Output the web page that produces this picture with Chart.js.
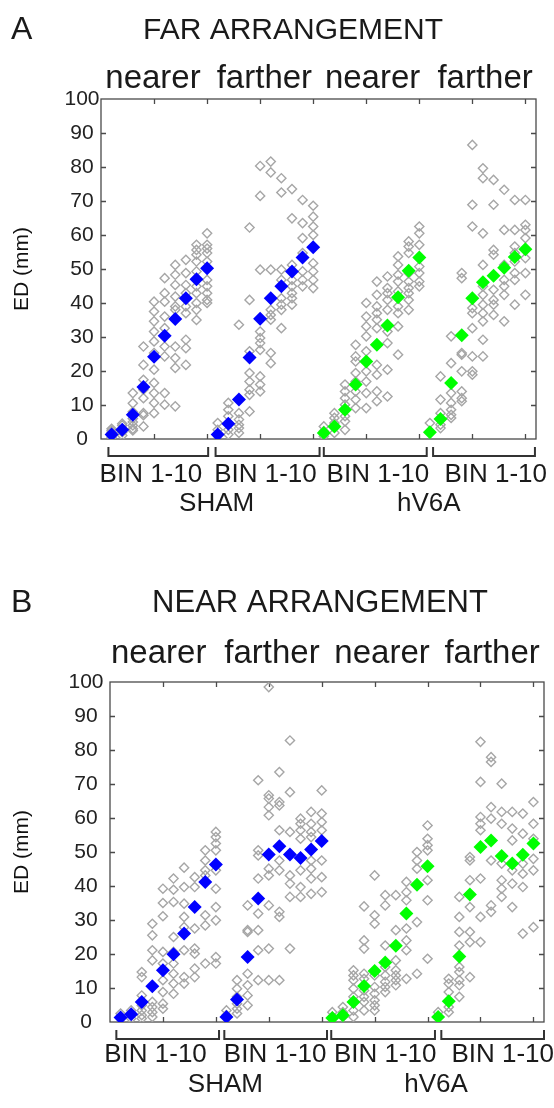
<!DOCTYPE html>
<html>
<head>
<meta charset="utf-8">
<script src="https://cdn.jsdelivr.net/npm/chart.js@4.4.0/dist/chart.umd.min.js"></script>
<style>
body { margin: 0; background: #fff; }
canvas { position: absolute; left: 0; }
#far-chart { top: 0; }
#near-chart { top: 554px; }
</style>
</head>
<body>
<canvas id="far-chart" width="554" height="554"></canvas>
<canvas id="near-chart" width="554" height="554"></canvas>
<script>
// ---- data: ED (mm) per bin, 10 bins per condition ----
const groupTitles = ["nearer", "farther", "nearer", "farther"];
const binLabel = "BIN 1-10";
const groupNames = ["SHAM", "hV6A"];
const yTicks = [0, 10, 20, 30, 40, 50, 60, 70, 80, 90, 100];

// FAR ARRANGEMENT
const farShamNearerMean = [1.3, 2.7, 7.1, 15.3, 24.2, 30.4, 35.3, 41.4, 47.0, 50.2];
const farShamNearerPts = [
    [0.5, 1, 1.5, 2, 2.5, 3], [1, 2, 3, 4, 4.5], [2.5, 3, 4, 5, 6, 8, 10.5, 13.5],
    [3.7, 7, 7.6, 12, 14.5, 17.4, 21.8, 27.2], [7.6, 10.6, 13.5, 16.5, 20.4, 25.3, 28.7, 31.6, 34.6, 37.5, 40.4],
    [10.1, 13.5, 24.3, 27.2, 32.6, 36, 40.4, 42.9, 47.3], [9.6, 20.9, 23.8, 27.2, 38, 39, 41.9, 45.3, 48.3, 51.2],
    [21.8, 26.7, 29.2, 37, 39, 42.9, 45.3, 48.8, 52.7], [35, 38, 40, 42.9, 44.9, 49.3, 52.2, 54.2, 55.6, 57.1],
    [40, 40.9, 42.9, 44.9, 46.8, 52.2, 54.7, 56, 57.1, 60.5]
];
const farShamFartherMean = [1.3, 4.5, 11.6, 24.0, 35.4, 41.4, 44.9, 49.3, 53.4, 56.4];
const farShamFartherPts = [
    [1.6, 2.7, 4.7], [1.3, 2.7, 4.7, 6.7, 8.6, 10.6], [1.8, 3.2, 4.2, 5.7, 7.6, 33.6],
    [8.1, 13, 14.5, 16.9, 19.4, 23.8, 25.8, 40.9, 62.2], [14, 16, 18.4, 26.2, 28.2, 29.7, 31.6, 49.8, 71.5, 80.3],
    [22.3, 25.3, 35.1, 36.5, 38, 49.8, 78.4, 81.6], [32.6, 38, 39.5, 41.4, 46.8, 49.8, 72.5, 76.7],
    [39.5, 41.4, 42.9, 44.9, 46.8, 51.2, 64.9, 73.5], [44.9, 46.8, 49.3, 54.7, 59.1, 63.5, 70.3],
    [44.4, 46.8, 49.3, 51.7, 56.6, 60, 62.5, 65.4, 68.6]
];
const farV6aNearerMean = [1.8, 3.7, 8.6, 16.0, 22.8, 27.7, 33.4, 41.7, 49.5, 53.4];
const farV6aNearerPts = [
    [0.8, 2.3, 3.7], [1.8, 4.7, 6.2, 7.6], [2.7, 5.2, 6.7, 10.1, 12, 14, 16],
    [9.1, 11.6, 14, 16.9, 19.4, 22.8, 24.3, 27.7], [9.1, 13.5, 16.9, 19.9, 25.8, 30.2, 33.1, 36, 40],
    [11.1, 14, 18.9, 21.8, 32.6, 35.1, 37, 39, 42.4, 46.3], [12.5, 20.4, 28.2, 31.6, 38, 40.9, 42.9, 44.4, 47.8],
    [24.8, 33.1, 37, 39, 43.4, 46.3, 48.3, 51.2, 53.7], [38, 40.9, 42.9, 44.4, 46.3, 48.8, 54.7, 56.6, 58.1],
    [44.9, 46.3, 48.8, 50.7, 57.1, 60.5, 62.5]
];
const farV6aFartherMean = [2.0, 5.9, 16.5, 30.5, 41.4, 46.1, 48.0, 50.4, 53.5, 55.8];
const farV6aFartherPts = [
    [1.8, 4.7], [3.2, 4.2, 5.7, 7.6, 11.6, 18.4], [6.2, 7.1, 8.6, 10.6, 13.5, 22.3, 30.2],
    [11.1, 12, 14, 19.9, 24.8, 25.3, 47.3, 48.8], [18.9, 19.9, 24.3, 32.6, 37, 38.5, 62.5, 68.9, 86.5],
    [24.3, 29.2, 34.6, 37, 39.5, 42.4, 44.9, 51.2, 60.5, 76.7, 79.6], [36.5, 39.5, 40.9, 43.9, 54.2, 55.6, 68.9, 76.2],
    [34.6, 42.4, 44.9, 46.8, 51.2, 61.5, 73.3], [39.5, 46.8, 48.8, 52.2, 54.7, 56.6, 61.5, 70.3],
    [42.4, 48.8, 53.2, 59.1, 61.5, 63, 70.3]
];

// NEAR ARRANGEMENT
const nearShamNearerMean = [1.3, 2.3, 5.9, 10.5, 15.2, 19.9, 26.0, 33.8, 41.2, 46.3];
const nearShamNearerPts = [
    [1, 2.5], [1, 3.4], [1, 2, 3.4, 4.9, 7.8, 13.2, 14.7],
    [1.5, 2.9, 4.4, 5.9, 18.1, 21.1, 25.5, 28.9], [3.9, 5.4, 8.8, 12.3, 17.2, 20.6, 31.1, 35, 39.2],
    [8.3, 11.3, 14.2, 17.2, 20.6, 25, 35.3, 38.9, 42.2], [11.3, 13.2, 21.1, 27.9, 30.9, 34.8, 39.7, 45.4],
    [13.2, 15.7, 20.1, 21.6, 27.5, 39.7, 42.6], [17.2, 28.4, 31.4, 43.1, 44.6, 47.5, 50.5],
    [17.2, 19.1, 29.9, 33.8, 39.2, 44.6, 50.5, 52.5, 54.4, 55.9]
];
const nearShamFartherMean = [1.5, 6.6, 19.1, 36.3, 49.3, 51.7, 49.3, 48.2, 50.7, 53.2];
const nearShamFartherPts = [
    [2, 3.4], [2.5, 3.9, 5.4, 7.4, 9.8, 12.3], [4.9, 7.8, 10.8, 14.2, 26.5, 27, 34.3],
    [12.3, 21.1, 27, 31.9, 42.2, 49, 50.5, 71.1], [12.3, 21.6, 34.3, 43.1, 45.1, 60.8, 63.2, 65.7, 66.7, 98.5],
    [12.3, 30.9, 32.4, 44.6, 47.5, 56.4, 63.7, 64.7, 73.5], [21.6, 36.8, 40.7, 43.1, 55.9, 67.6, 82.8],
    [36.8, 39.7, 44.6, 53.9, 56.4, 58.3, 59.8], [37.7, 42.2, 45.1, 47.5, 54.4, 55.9, 58.3, 61.8],
    [38.2, 42.6, 47.5, 56.4, 58.8, 61.3, 68.1]
];
const nearV6aNearerMean = [1.2, 2.0, 5.9, 10.6, 15.0, 17.5, 22.4, 31.9, 40.4, 45.8];
const nearV6aNearerPts = [
    [1.5, 2.9], [1.5, 2.9, 4.4], [1.5, 3.4, 7.4, 9.8, 12.3, 13.7, 15.2],
    [3.4, 5.9, 7.4, 9.3, 10.8, 12.7, 14.2, 21.6, 24, 34], [3.4, 4.9, 6.4, 8.3, 10.3, 13.7, 28.9, 31.4, 43.1],
    [8.8, 10.3, 11.8, 13.7, 16.2, 22.5, 34.3, 37.3], [10.8, 12.3, 13.7, 15.2, 18.1, 27, 37.3],
    [12.7, 21.1, 24, 27.5, 35.8, 38.2, 41.2], [14.2, 29.4, 45.1, 47.5, 50],
    [18.6, 35.8, 41.7, 50.5, 52, 53.9, 57.8]
];
const nearV6aFartherMean = [1.5, 6.1, 19.3, 37.5, 51.5, 53.4, 48.8, 46.6, 49.2, 52.5];
const nearV6aFartherPts = [
    [2.9], [2.9, 4.4, 8.8, 11.3, 12.7], [7.4, 10.8, 12.3, 14.7, 16.2, 22.5, 26.5, 30.9, 36.8],
    [13.2, 23.5, 26.5, 33.8, 41.7, 47.5, 48.5], [23.5, 30.9, 42.2, 56.4, 58.3, 60.3, 70.6, 82.4],
    [32.4, 34.3, 47.5, 59.8, 63.2, 76.5, 77.9], [36.8, 39.2, 41.7, 46.6, 58.3, 61.8, 70.1],
    [33.8, 40.7, 44.6, 46.6, 53.4, 56.9, 61.8], [26, 39.7, 43.6, 46.6, 55.4, 61.3],
    [27.9, 44.6, 48, 53.9, 58.3, 64.7]
];

const SHAM_BLUE = '#0000ff';
const V6A_GREEN = '#00ff00';
const GRAY = '#a6a6a6';
const FONT = "'Liberation Sans', Arial, sans-serif";

function toPoints(means, offset) {
    return means.map((v, i) => ({ x: offset + i + 1, y: v }));
}

function toScatter(ptsByBin, offset) {
    const out = [];
    ptsByBin.forEach((bin, i) => {
        bin.forEach(v => out.push({ x: offset + i + 1, y: v }));
    });
    return out;
}

// box, inward ticks, brackets and all the text around the plot
const panelDecor = {
    id: 'panelDecor',
    beforeDatasetsDraw(chart, args, opts) {
        const ctx = chart.ctx;
        const a = chart.chartArea;
        const xs = chart.scales.x;
        const ys = chart.scales.y;
        ctx.save();
        ctx.strokeStyle = '#4a4a4a';
        ctx.lineWidth = 1.3;
        ctx.strokeRect(a.left, a.top, a.right - a.left, a.bottom - a.top);
        ctx.beginPath();
        for (let v = 10; v < 100; v += 10) {
            const y = Math.round(ys.getPixelForValue(v)) + 0.5;
            ctx.moveTo(a.left, y); ctx.lineTo(a.left + 5, y);
            ctx.moveTo(a.right, y); ctx.lineTo(a.right - 5, y);
        }
        for (let v = 5; v <= 40; v += 5) {
            const x = Math.round(xs.getPixelForValue(v)) + 0.5;
            ctx.moveTo(x, a.top); ctx.lineTo(x, a.top + 5);
            ctx.moveTo(x, a.bottom); ctx.lineTo(x, a.bottom - 5);
        }
        ctx.stroke();
        ctx.restore();
    },
    afterDraw(chart, args, opts) {
        const ctx = chart.ctx;
        const a = chart.chartArea;
        const xs = chart.scales.x;
        ctx.save();
        ctx.fillStyle = '#1a1a1a';
        ctx.textBaseline = 'alphabetic';

        ctx.font = '32px ' + FONT;
        ctx.textAlign = 'left';
        ctx.fillText(opts.letter, 11, opts.titleY);
        ctx.font = opts.titleSize + 'px ' + FONT;
        ctx.textAlign = 'center';
        ctx.fillText(opts.title, opts.titleX, opts.titleY);

        ctx.font = '33px ' + FONT;
        groupTitles.forEach((t, i) => {
            ctx.fillText(t, xs.getPixelForValue(opts.topPos[i]), a.top - opts.topGap);
        });

        // brackets under each condition
        ctx.strokeStyle = '#333';
        ctx.lineWidth = 2;
        opts.spans.forEach(s => {
            const x0 = xs.getPixelForValue(s[0]);
            const x1 = xs.getPixelForValue(s[1]);
            ctx.beginPath();
            ctx.moveTo(x0, a.bottom + 8);
            ctx.lineTo(x0, a.bottom + 17);
            ctx.lineTo(x1, a.bottom + 17);
            ctx.lineTo(x1, a.bottom + 8);
            ctx.stroke();
        });

        ctx.font = '26px ' + FONT;
        opts.binPos.forEach(p => {
            ctx.fillText(binLabel, xs.getPixelForValue(p), a.bottom + opts.binGap);
        });
        groupNames.forEach((n, i) => {
            ctx.fillText(n, xs.getPixelForValue(opts.namePos[i]), a.bottom + opts.nameGap);
        });
        ctx.restore();
    }
};

function drawPanel(canvasId, groups, decor, area) {
    const datasets = [
        {
            data: toPoints(groups[0].mean, 0).concat(toPoints(groups[1].mean, 10)),
            pointStyle: 'rectRot',
            radius: 7,
            borderWidth: 0,
            backgroundColor: SHAM_BLUE,
            order: 1
        },
        {
            data: toPoints(groups[2].mean, 20).concat(toPoints(groups[3].mean, 30)),
            pointStyle: 'rectRot',
            radius: 7,
            borderWidth: 0,
            backgroundColor: V6A_GREEN,
            order: 1
        },
        {
            data: groups.flatMap((g, i) => toScatter(g.pts, i * 10)),
            pointStyle: 'rectRot',
            radius: 4.6,
            borderColor: GRAY,
            borderWidth: 1.4,
            backgroundColor: 'rgba(0,0,0,0)',
            order: 2
        }
    ];

    return new Chart(document.getElementById(canvasId), {
        type: 'scatter',
        data: { datasets: datasets },
        options: {
            responsive: false,
            animation: false,
            devicePixelRatio: 1,
            layout: { padding: { left: 10, top: area.top, right: 554 - area.right, bottom: 554 - area.bottom } },
            plugins: { legend: { display: false }, tooltip: { enabled: false }, panelDecor: decor },
            scales: {
                x: { type: 'linear', min: 0, max: 41, display: false },
                y: {
                    min: 0,
                    max: 100,
                    afterBuildTicks: s => { s.ticks = yTicks.map(v => ({ value: v })); },
                    afterFit: s => { s.width = area.left - 10; },
                    grid: { display: false, drawTicks: false },
                    border: { display: false },
                    ticks: {
                        crossAlign: 'center',
                        padding: area.labelPad,
                        color: '#222',
                        font: { family: FONT, size: 21 }
                    },
                    title: {
                        display: true,
                        text: 'ED (mm)',
                        color: '#111',
                        padding: 0,
                        font: { family: FONT, size: 21 }
                    }
                }
            }
        },
        plugins: [panelDecor]
    });
}

drawPanel('far-chart', [
    { mean: farShamNearerMean, pts: farShamNearerPts },
    { mean: farShamFartherMean, pts: farShamFartherPts },
    { mean: farV6aNearerMean, pts: farV6aNearerPts },
    { mean: farV6aFartherMean, pts: farV6aFartherPts }
], {
    letter: 'A', title: 'FAR ARRANGEMENT', titleX: 293, titleY: 39, titleSize: 30, topGap: 11,
    topPos: [4.9, 15.4, 25.6, 36.2],
    spans: [[0.7, 10.1], [10.8, 20.6], [21.0, 30.7], [31.3, 40.9]],
    binPos: [4.7, 15.5, 26.1, 37.2], namePos: [10.9, 30.9], binGap: 43, nameGap: 72
}, { left: 101, top: 99, right: 536, bottom: 439, labelPad: 1.5 });

drawPanel('near-chart', [
    { mean: nearShamNearerMean, pts: nearShamNearerPts },
    { mean: nearShamFartherMean, pts: nearShamFartherPts },
    { mean: nearV6aNearerMean, pts: nearV6aNearerPts },
    { mean: nearV6aFartherMean, pts: nearV6aFartherPts }
], {
    letter: 'B', title: 'NEAR ARRANGEMENT', titleX: 320, titleY: 58, titleSize: 31, topGap: 19,
    topPos: [4.6, 15.3, 25.7, 36.1],
    spans: [[0.6, 10.3], [10.8, 20.5], [20.9, 30.7], [31.3, 41.0]],
    binPos: [4.3, 15.6, 26.0, 37.1], namePos: [10.9, 30.8], binGap: 40, nameGap: 70
}, { left: 110, top: 128, right: 544, bottom: 468, labelPad: 6.5 });
</script>
</body>
</html>
